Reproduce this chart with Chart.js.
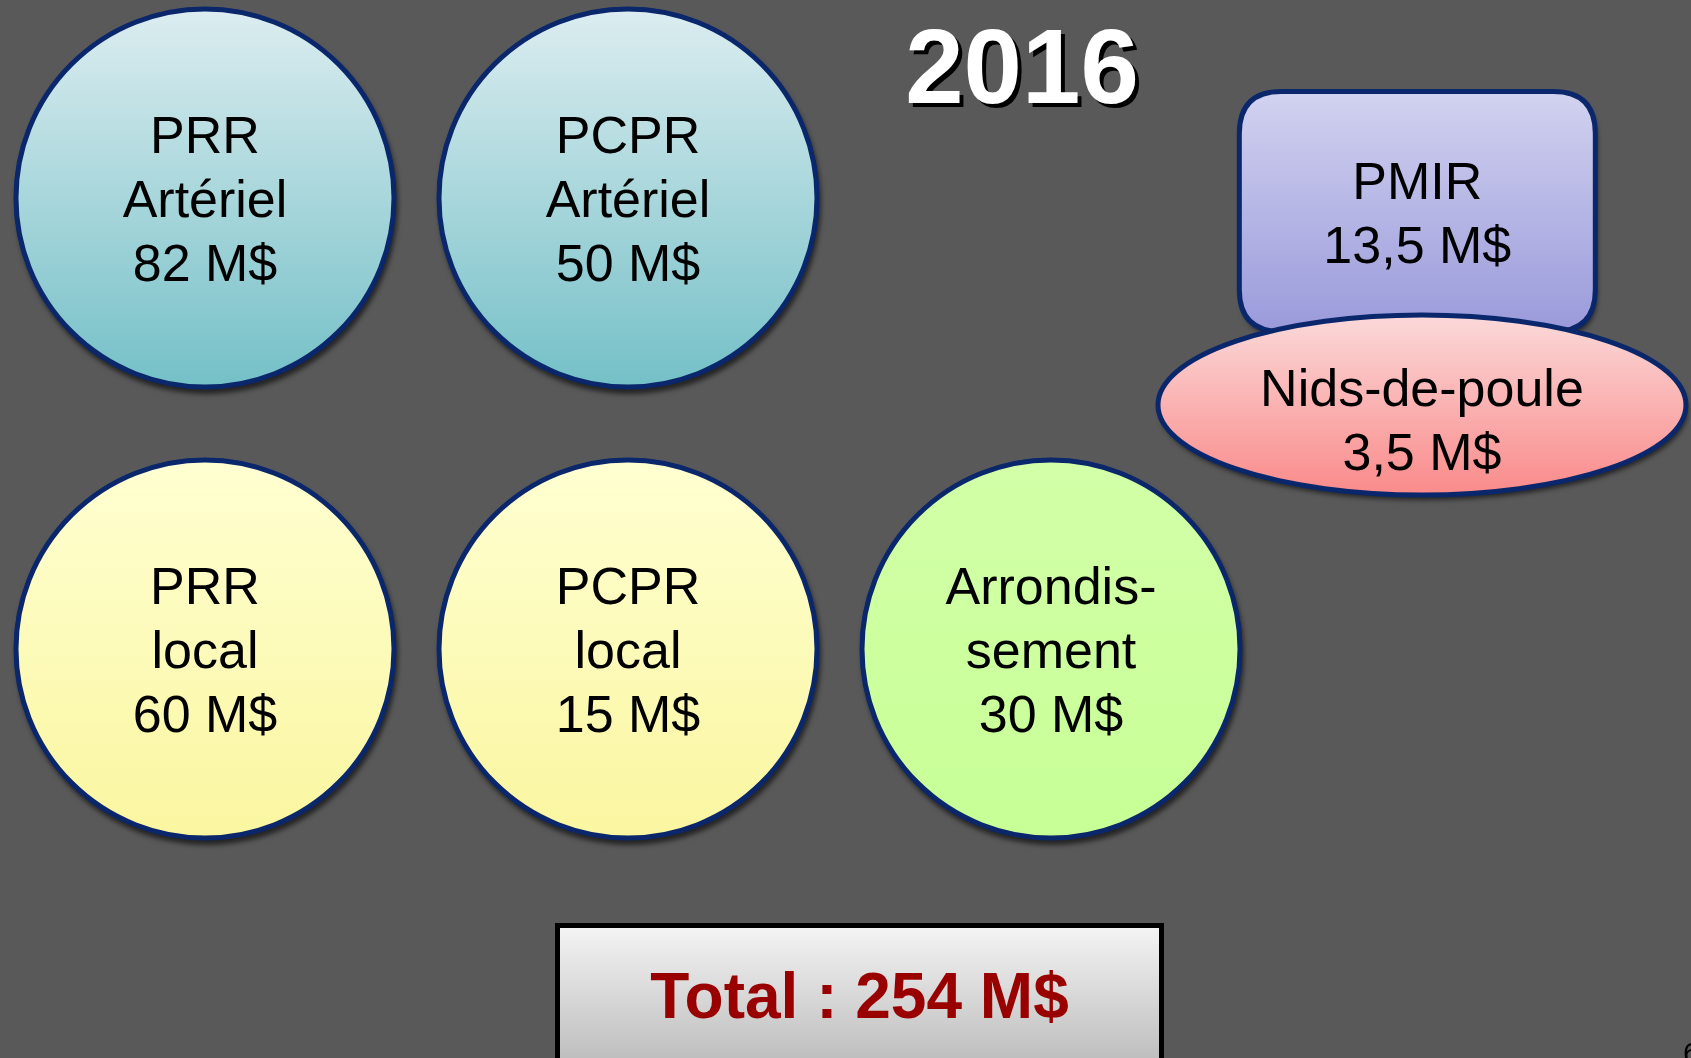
<!DOCTYPE html>
<html lang="fr">
<head>
<meta charset="utf-8">
<title>Programmes 2016</title>
<script src="https://cdn.jsdelivr.net/npm/chart.js@4.4.1/dist/chart.umd.min.js"></script>
<style>
  html, body { margin: 0; padding: 0; background: #595959; overflow: hidden; }
  #slide { display: block; }
</style>
</head>
<body>
<canvas id="slide" width="1691" height="1058"></canvas>
<script>
const annee = '2016';
const programmes = ['PRR\nArtériel', 'PCPR\nArtériel', 'PRR\nlocal', 'PCPR\nlocal', 'Arrondis-\nsement', 'PMIR', 'Nids-de-poule'];
const budgets = [82, 50, 60, 15, 30, 13.5, 3.5];
const unite = 'M$';

// mise en page : colonne / rangee de chaque forme
const colonnes = [0, 1, 0, 1, 2, 2.866, 2.877];
const rangees = [0, 0, 1, 1, 1, 0.03, 0.459];
const formes = ['cercle', 'cercle', 'cercle', 'cercle', 'cercle', 'boite', 'ellipse'];
const teintes = {
  'PRR\nArtériel': ['#dcedf0', '#74c0c7'],
  'PCPR\nArtériel': ['#dcedf0', '#74c0c7'],
  'PRR\nlocal': ['#ffffd2', '#faf6a0'],
  'PCPR\nlocal': ['#ffffd2', '#faf6a0'],
  'Arrondis-\nsement': ['#d2ffa8', '#c8ff96'],
  'PMIR': ['#d2d2f0', '#9a9adb'],
  'Nids-de-poule': ['#fbd9d9', '#fa8a8a']
};

const NAVY = '#0b276c';
const RAYON = 189;
const TEXTE = '52px "Liberation Sans", Arial, sans-serif';
const INTERLIGNE = 64;

function formatMontant(v) {
  return String(v).replace('.', ',') + ' ' + unite;
}

function degrade(ctx, nom, haut, bas) {
  const g = ctx.createLinearGradient(0, haut, 0, bas);
  g.addColorStop(0, teintes[nom][0]);
  g.addColorStop(1, teintes[nom][1]);
  return g;
}

const idxCercles = [], idxAutres = [];
formes.forEach((f, i) => (f === 'cercle' ? idxCercles : idxAutres).push(i));

const pointsCercles = idxCercles.map(i => ({ x: colonnes[i], y: rangees[i], nom: programmes[i], montant: budgets[i] }));
const pointsAutres = idxAutres.map(i => ({ x: colonnes[i], y: rangees[i], nom: programmes[i], montant: budgets[i], forme: formes[i] }));

function ombre(ctx) {
  ctx.shadowColor = 'rgba(0,0,0,0.6)';
  ctx.shadowBlur = 5;
  ctx.shadowOffsetX = 2;
  ctx.shadowOffsetY = 5;
}

function cheminBoite(ctx, x, y, w, h, r) {
  ctx.beginPath();
  ctx.moveTo(x + r, y);
  ctx.lineTo(x + w - r, y);
  ctx.quadraticCurveTo(x + w, y, x + w, y + r);
  ctx.lineTo(x + w, y + h - r);
  ctx.quadraticCurveTo(x + w, y + h, x + w - r, y + h);
  ctx.lineTo(x + r, y + h);
  ctx.quadraticCurveTo(x, y + h, x, y + h - r);
  ctx.lineTo(x, y + r);
  ctx.quadraticCurveTo(x, y, x + r, y);
  ctx.closePath();
}

function etiquette(ctx, texte, cx, cy) {
  const lignes = texte.split('\n');
  ctx.save();
  ctx.font = TEXTE;
  ctx.fillStyle = '#000';
  ctx.textAlign = 'center';
  ctx.textBaseline = 'alphabetic';
  lignes.forEach((l, i) => {
    const y = cy + (i - (lignes.length - 1) / 2) * INTERLIGNE + 19;
    ctx.fillText(l, cx, y);
  });
  ctx.restore();
}

const diapoPlugin = {
  id: 'diapo',
  beforeDatasetsDraw(chart) {
    // ombres des cercles
    const ctx = chart.ctx;
    const meta = chart.getDatasetMeta(0);
    ctx.save();
    ombre(ctx);
    ctx.fillStyle = NAVY;
    meta.data.forEach(pt => {
      ctx.beginPath();
      ctx.arc(pt.x, pt.y, RAYON + 2, 0, Math.PI * 2);
      ctx.fill();
    });
    ctx.restore();
  },
  afterDatasetsDraw(chart) {
    const ctx = chart.ctx;
    const metaC = chart.getDatasetMeta(0);
    const metaA = chart.getDatasetMeta(1);

    // PMIR puis nids-de-poule par-dessus
    metaA.data.forEach((pt, j) => {
      const d = pointsAutres[j];
      ctx.save();
      if (d.forme === 'boite') {
        const w = 356, h = 240;
        cheminBoite(ctx, pt.x - w / 2, pt.y - h / 2, w, h, 42);
        ctx.fillStyle = degrade(ctx, d.nom, pt.y - h / 2, pt.y + h / 2);
      } else {
        ctx.beginPath();
        ctx.ellipse(pt.x, pt.y, 264, 90, 0, 0, Math.PI * 2);
        ctx.fillStyle = degrade(ctx, d.nom, pt.y - 90, pt.y + 90);
      }
      ombre(ctx);
      ctx.fill();
      ctx.shadowColor = 'transparent';
      ctx.lineWidth = 5;
      ctx.strokeStyle = NAVY;
      ctx.stroke();
      ctx.restore();
      etiquette(ctx, d.nom + '\n' + formatMontant(d.montant), pt.x, pt.y + (d.forme === 'ellipse' ? 14 : 0));
    });

    metaC.data.forEach((pt, j) => {
      const d = pointsCercles[j];
      etiquette(ctx, d.nom + '\n' + formatMontant(d.montant), pt.x, pt.y);
    });

    // annee
    ctx.save();
    ctx.font = 'bold 105px "Liberation Sans", Arial, sans-serif';
    ctx.textAlign = 'center';
    ctx.textBaseline = 'alphabetic';
    ctx.fillStyle = '#000';
    ctx.fillText(annee, 1026, 107);
    ctx.fillStyle = '#fff';
    ctx.fillText(annee, 1022, 103);
    ctx.restore();

    // boite du total
    const total = budgets.reduce((a, b) => a + b, 0);
    ctx.save();
    const g = ctx.createLinearGradient(0, 926, 0, 1070);
    g.addColorStop(0, '#f4f4f4');
    g.addColorStop(1, '#bababa');
    ctx.fillStyle = g;
    ctx.fillRect(557.5, 925.5, 604, 200);
    ctx.lineWidth = 5;
    ctx.strokeStyle = '#000';
    ctx.strokeRect(557.5, 925.5, 604, 200);
    ctx.font = 'bold 64px "Liberation Sans", Arial, sans-serif';
    ctx.textAlign = 'center';
    ctx.fillStyle = '#990000';
    ctx.fillText('Total : ' + String(total).replace('.', ',') + ' ' + unite, 859.5, 1018);
    ctx.restore();

    // numero de page (coupe par le bord)
    ctx.save();
    ctx.font = '30px "Liberation Sans", Arial, sans-serif';
    ctx.textAlign = 'left';
    ctx.textBaseline = 'top';
    ctx.fillStyle = '#000';
    ctx.fillText('6', 1683, 1040);
    ctx.restore();
  }
};

const chart = new Chart(document.getElementById('slide'), {
  type: 'scatter',
  data: {
    datasets: [{
      label: 'Programmes',
      data: pointsCercles,
      clip: false,
      pointStyle: 'circle',
      pointRadius: RAYON,
      pointHoverRadius: RAYON,
      pointBorderWidth: 5,
      pointBorderColor: NAVY,
      pointBackgroundColor: function (c) {
        const ch = c.chart;
        if (!ch.chartArea || !c.raw) return '#ccc';
        const cy = ch.scales.y.getPixelForValue(c.raw.y);
        return degrade(ch.ctx, c.raw.nom, cy - RAYON, cy + RAYON);
      }
    }, {
      label: 'Autres',
      data: pointsAutres,
      clip: false,
      pointRadius: 0,
      pointHoverRadius: 0
    }]
  },
  options: {
    responsive: false,
    animation: false,
    events: [],
    layout: { padding: 0, autoPadding: false },
    plugins: {
      legend: { display: false },
      tooltip: { enabled: false },
      title: { display: false }
    },
    scales: {
      x: { type: 'linear', display: false, min: -0.4846, max: 3.513 },
      y: { type: 'linear', display: false, reverse: true, min: -0.439, max: 1.9069 }
    }
  },
  plugins: [diapoPlugin]
});
</script>
</body>
</html>
